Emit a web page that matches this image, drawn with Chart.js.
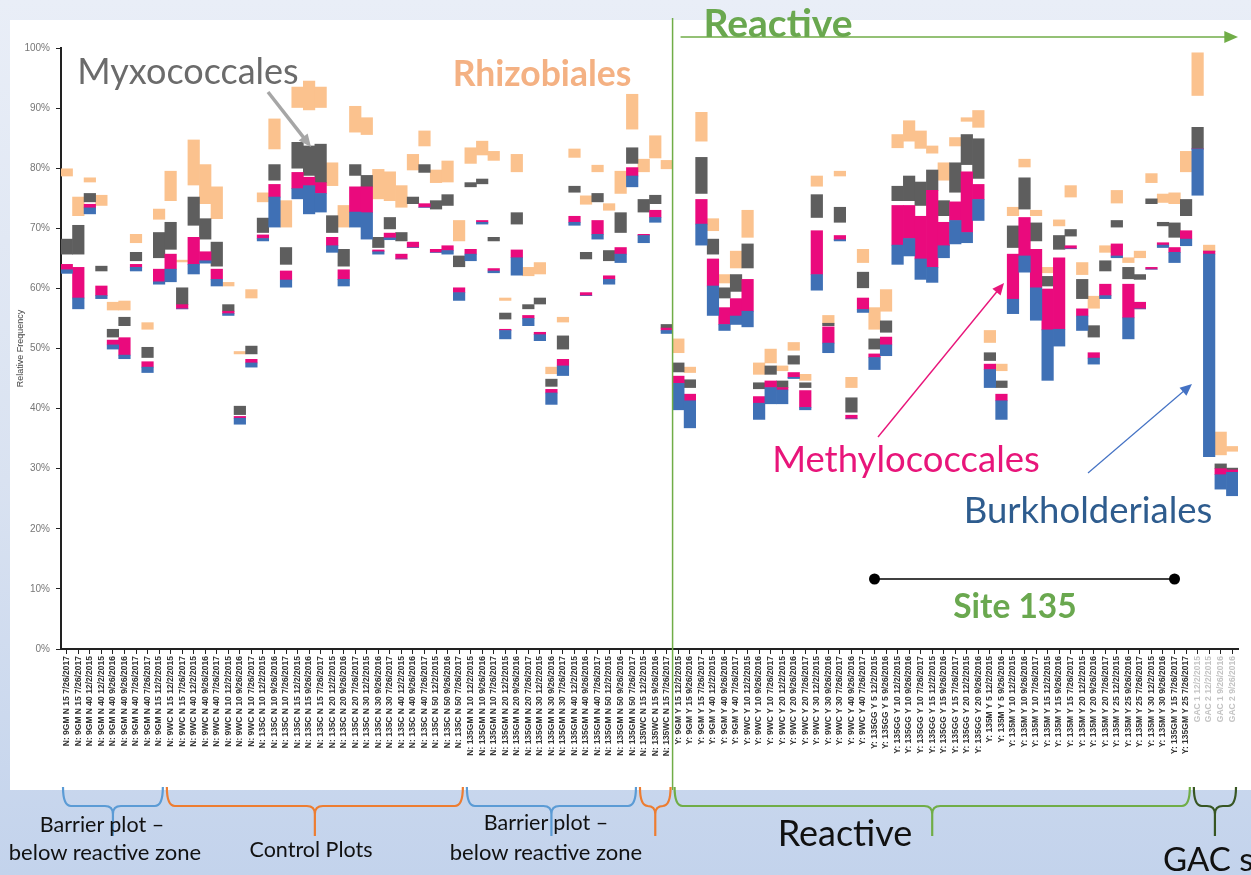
<!DOCTYPE html>
<html>
<head>
<meta charset="utf-8">
<script src="https://cdn.jsdelivr.net/npm/chart.js@4.4.1/dist/chart.umd.min.js"></script>
<style>
  html, body { margin: 0; padding: 0; }
  body {
    width: 1251px; height: 875px; position: relative; overflow: hidden;
    background: linear-gradient(180deg, #e9eef7 0%, #d9e2f1 55%, #c3d3ec 100%);
    font-family: Lato, "Open Sans", sans-serif;
  }
  #panel { position: absolute; left: 10px; top: 20px; width: 1241px; height: 770px; background: #fff; }
  #chart { position: absolute; left: 0; top: 0; }
  .t { position: absolute; white-space: nowrap; line-height: 1; transform: translate(-50%, -50%); }
</style>
</head>
<body>
<div id="panel"></div>
<canvas id="chart" width="1251" height="875"></canvas>

<div class="t" style="left:778px;top:22px;font-size:39px;font-weight:700;color:#6aa84f;">Reactive</div>
<div class="t" style="left:188px;top:70px;font-size:36px;color:#6b6b6b;">Myxococcales</div>
<div class="t" style="left:542px;top:73px;font-size:35.5px;font-weight:700;color:#f4b183;">Rhizobiales</div>
<div class="t" style="left:906px;top:458px;font-size:36.5px;color:#e8157a;">Methylococcales</div>
<div class="t" style="left:1088px;top:509px;font-size:36.5px;color:#2e5c8e;">Burkholderiales</div>
<div class="t" style="left:1015px;top:606px;font-size:33.5px;font-weight:700;color:#6aa84f;">Site 135</div>

<div class="t" style="left:102px;top:825px;font-size:21.5px;color:#111;">Barrier plot –</div>
<div class="t" style="left:105px;top:852px;font-size:22px;color:#111;">below reactive zone</div>
<div class="t" style="left:311px;top:850px;font-size:21.5px;color:#111;">Control Plots</div>
<div class="t" style="left:546px;top:823px;font-size:21.5px;color:#111;">Barrier plot –</div>
<div class="t" style="left:546px;top:852px;font-size:22px;color:#111;">below reactive zone</div>
<div class="t" style="left:845px;top:832px;font-size:36px;color:#111;">Reactive</div>
<div class="t" style="left:1163px;top:858px;font-size:33px;color:#111;transform:translate(0,-50%);">GAC site</div>

<script>
// Sample names along the x axis
const sampleLabels = [
  "N: 9GM N 15 7/26/2017", "N: 9GM N 15 7/26/2017", "N: 9GM N 40 12/2/2015", "N: 9GM N 40 12/2/2015",
  "N: 9GM N 40 9/26/2016", "N: 9GM N 40 9/26/2016", "N: 9GM N 40 7/26/2017", "N: 9GM N 40 7/26/2017",
  "N: 9GM N 15 12/2/2015",
  "N: 9WC N 15 12/2/2015", "N: 9WC N 15 7/26/2017", "N: 9WC N 40 12/2/2015", "N: 9WC N 40 9/26/2016",
  "N: 9WC N 40 7/26/2017", "N: 9WC N 10 12/2/2015", "N: 9WC N 10 9/26/2016", "N: 9WC N 10 7/26/2017",
  "N: 135C N 10 12/2/2015", "N: 135C N 10 9/26/2016", "N: 135C N 10 7/26/2017", "N: 135C N 15 12/2/2015",
  "N: 135C N 15 9/26/2016", "N: 135C N 15 7/26/2017", "N: 135C N 20 12/2/2015", "N: 135C N 20 9/26/2016",
  "N: 135C N 20 7/26/2017", "N: 135C N 30 12/2/2015", "N: 135C N 30 9/26/2016", "N: 135C N 30 7/26/2017",
  "N: 135C N 40 12/2/2015", "N: 135C N 40 9/26/2016", "N: 135C N 40 7/26/2017", "N: 135C N 50 12/2/2015",
  "N: 135C N 50 9/26/2016", "N: 135C N 50 7/26/2017",
  "N: 135GM N 10 12/2/2015", "N: 135GM N 10 9/26/2016", "N: 135GM N 10 7/26/2017", "N: 135GM N 20 12/2/2015",
  "N: 135GM N 20 9/26/2016", "N: 135GM N 20 7/26/2017", "N: 135GM N 30 12/2/2015", "N: 135GM N 30 9/26/2016",
  "N: 135GM N 30 7/26/2017", "N: 135GM N 40 12/2/2015", "N: 135GM N 40 9/26/2016", "N: 135GM N 40 7/26/2017",
  "N: 135GM N 50 12/2/2015", "N: 135GM N 50 9/26/2016", "N: 135GM N 50 7/26/2017",
  "N: 135WC N 15 12/2/2015", "N: 135WC N 15 9/26/2016", "N: 135WC N 15 7/26/2017",
  "Y: 9GM Y 15 12/2/2015", "Y: 9GM Y 15 9/26/2016", "Y: 9GM Y 15 7/26/2017", "Y: 9GM Y 40 12/2/2015",
  "Y: 9GM Y 40 9/26/2016", "Y: 9GM Y 40 7/26/2017", "Y: 9WC Y 10 12/2/2015", "Y: 9WC Y 10 9/26/2016",
  "Y: 9WC Y 10 7/26/2017", "Y: 9WC Y 20 12/2/2015", "Y: 9WC Y 20 9/26/2016", "Y: 9WC Y 20 7/26/2017",
  "Y: 9WC Y 30 12/2/2015", "Y: 9WC Y 30 9/26/2016", "Y: 9WC Y 30 7/26/2017", "Y: 9WC Y 40 9/26/2016",
  "Y: 9WC Y 40 7/26/2017",
  "Y: 135GG Y 5 12/2/2015", "Y: 135GG Y 5 9/26/2016", "Y: 135GG Y 10 12/2/2015", "Y: 135GG Y 10 9/26/2016",
  "Y: 135GG Y 10 7/26/2017", "Y: 135GG Y 15 12/2/2015", "Y: 135GG Y 15 9/26/2016", "Y: 135GG Y 15 7/26/2017",
  "Y: 135GG Y 20 12/2/2015", "Y: 135GG Y 20 9/26/2016", "Y: 135M Y 5 12/2/2015", "Y: 135M Y 5 9/26/2016",
  "Y: 135M Y 10 12/2/2015", "Y: 135M Y 10 9/26/2016", "Y: 135M Y 10 7/26/2017", "Y: 135M Y 15 12/2/2015",
  "Y: 135M Y 15 9/26/2016", "Y: 135M Y 15 7/26/2017", "Y: 135M Y 20 12/2/2015", "Y: 135M Y 20 9/26/2016",
  "Y: 135M Y 20 7/26/2017", "Y: 135M Y 25 12/2/2015", "Y: 135M Y 25 9/26/2016", "Y: 135M Y 25 7/26/2017",
  "Y: 135M Y 30 12/2/2015", "Y: 135M Y 30 9/26/2016", "Y: 135GM Y 15 7/26/2017", "Y: 135GM Y 25 7/26/2017",
  "GAC 1 12/2/2015", "GAC 2 12/2/2015", "GAC 1 9/26/2016", "GAC 2 9/26/2016"
];

// Cumulative relative frequency (%) where each order's band starts and ends in a sample
const burkLo = [
  62.5,56.6,72.4,58.3,49.9,48.3,62.9,46.0,60.7,61.1, 56.6,62.4,64.2,60.4,55.5,37.4,46.9,67.9,70.2,60.2,
  74.9,72.4,72.7,66.0,60.4,70.2,68.2,65.7,68.1,64.9, 66.8,73.5,66.0,65.7,58.0,64.6,70.7,62.6,51.6,62.2,
  53.8,51.3,40.7,45.5,70.5,58.8,68.2,60.7,64.3,76.9, 67.6,71.0,52.5,39.8,36.8,67.2,55.5,53.0,54.0,53.6,
  38.2,40.8,40.8,45.0,39.8,59.7,49.3,67.9,38.3,56.0, 46.5,48.8,64.0,65.4,61.5,61.0,65.1,67.4,67.6,71.3,
  43.5,38.2,55.8,62.7,54.7,44.7,50.4,66.6,53.0,47.4, 58.3,65.1,51.6,56.6,63.2,66.8,64.3,67.1,75.5,32.0,
  26.6,25.5
];
const burkHi = [
  63.1,58.4,73.4,58.8,50.6,48.9,63.5,46.9,61.1,63.2, 56.6,64.0,64.6,61.5,55.8,38.4,47.6,68.3,75.2,61.4,
  76.6,77.1,75.8,67.1,61.5,72.7,72.6,66.1,68.4,64.9, 66.8,73.5,66.0,66.3,59.3,65.7,71.0,62.9,53.0,65.1,
  55.0,52.3,42.6,47.1,71.0,58.8,69.0,61.5,65.7,78.7, 68.8,71.8,53.0,44.2,41.3,70.7,60.4,54.0,55.4,56.2,
  40.9,43.5,43.1,45.2,40.2,62.3,50.9,68.1,38.3,56.5, 48.5,50.6,67.2,68.3,64.9,63.5,67.1,71.3,69.3,74.8,
  46.5,41.3,58.2,65.4,60.1,53.1,53.2,66.6,55.4,48.4, 58.8,65.4,55.1,56.6,63.2,67.2,66.0,68.2,83.2,65.7,
  29.0,29.4
];
const methHi = [
  64.0,63.5,74.0,60.4,51.4,51.8,64.0,47.8,63.2,65.7, 57.3,68.5,66.1,63.2,56.2,38.7,48.2,68.9,77.3,62.9,
  79.3,78.5,77.6,68.5,63.1,76.9,76.9,66.4,69.2,65.7, 67.7,74.1,66.5,67.1,60.1,66.5,71.3,63.3,53.2,66.4,
  55.5,52.7,43.2,48.2,72.0,59.3,71.3,62.1,66.8,80.1, 69.0,73.0,53.4,45.4,42.4,74.8,64.9,56.8,58.3,61.5,
  42.0,44.6,43.5,46.0,43.0,69.6,53.6,68.8,38.9,58.4, 49.1,51.9,73.8,73.8,72.0,76.3,71.0,74.4,79.4,77.3,
  47.4,42.4,65.7,71.8,66.5,59.9,65.1,67.1,56.6,49.3, 60.7,67.4,60.7,57.7,63.5,67.6,66.8,69.6,83.2,66.2,
  30.0,29.8
];
const myxoLo = [
  65.7,65.7,74.4,62.9,51.9,53.8,64.6,48.5,65.1,66.5, 57.3,70.5,68.2,63.7,56.2,39.0,49.1,69.3,78.0,64.0,
  80.0,78.8,77.6,69.3,63.7,78.8,76.9,66.8,69.9,67.9, 74.1,79.3,73.2,73.8,63.6,76.9,77.4,67.9,54.9,70.7,
  56.6,57.4,43.7,49.9,76.0,64.9,74.4,64.6,69.3,80.8, 72.7,74.1,53.4,46.1,43.5,75.8,65.7,58.4,59.5,63.4,
  43.3,45.7,43.5,47.4,43.5,71.8,53.8,71.0,39.4,60.1, 49.9,52.7,74.6,74.6,73.8,76.3,72.1,76.0,80.6,78.3,
  48.0,43.5,66.8,73.2,67.9,60.4,66.5,68.7,58.3,51.9, 62.9,70.2,61.6,61.5,74.1,70.4,68.5,72.1,83.2,66.2,
  30.0,29.8
];
const myxoHi = [
  68.2,70.5,75.8,63.7,53.2,55.2,66.0,50.2,69.3,71.0, 60.1,75.2,71.6,67.7,57.3,40.4,50.4,71.7,80.6,66.8,
  84.3,83.7,84.0,72.1,66.5,80.6,78.8,68.5,71.8,69.3, 75.2,80.6,74.6,75.6,65.4,77.6,78.2,68.5,55.9,72.6,
  57.3,58.4,44.9,52.1,77.0,66.0,75.8,66.3,72.6,83.4, 74.8,75.5,54.0,47.6,44.8,81.8,68.2,60.1,62.3,67.4,
  44.3,47.1,44.6,48.8,44.3,75.6,54.2,73.5,41.8,62.7, 51.6,54.6,77.0,78.7,77.7,79.7,74.6,80.9,85.6,84.9,
  49.3,44.6,70.4,78.4,70.9,62.0,68.8,69.8,61.5,53.8, 64.6,71.3,63.5,62.3,74.9,71.0,70.9,74.8,86.8,66.2,
  30.8,30.1
];
const rhizLo = [
  78.7,72.1,77.7,73.8,56.4,56.4,67.6,53.2,71.5,74.6, 64.4,77.2,74.1,71.6,60.4,49.1,58.4,74.4,83.2,70.2,
  90.1,89.7,90.1,77.1,70.2,86.0,85.6,74.9,74.6,73.5, 79.7,83.7,77.6,77.7,67.9,80.8,82.2,81.3,58.0,79.4,
  62.1,62.4,45.8,54.4,81.8,74.0,79.4,73.0,75.8,86.5, 79.4,81.7,79.9,49.3,46.0,84.5,69.6,60.9,63.4,68.5,
  45.7,47.6,46.3,49.7,44.7,77.0,54.2,78.7,43.5,64.3, 53.2,56.2,83.4,84.5,83.3,82.5,78.0,83.7,87.8,86.8,
  51.0,46.3,72.1,80.2,72.1,62.6,70.4,75.2,62.3,56.7, 66.0,74.2,64.3,65.1,77.6,74.3,74.1,79.4,92.1,66.2,
  32.3,32.9
];
const rhizHi = [
  79.9,75.2,78.4,75.5,57.7,57.9,69.0,54.3,73.2,79.5, 64.7,84.7,80.6,76.9,61.0,49.5,59.8,75.9,88.2,74.6,
  93.5,94.5,93.5,80.9,73.8,90.3,88.4,79.8,79.4,77.1, 82.3,86.2,79.7,81.2,71.3,83.4,84.5,82.8,58.4,82.3,
  63.5,64.3,46.9,55.2,83.2,75.4,80.5,74.1,79.5,92.3, 81.5,85.4,81.3,51.6,46.9,89.3,71.6,62.3,66.2,73.0,
  47.6,49.9,47.1,51.0,45.7,78.7,55.5,79.5,45.2,66.5, 56.8,59.8,85.6,87.9,86.2,83.7,80.9,85.1,88.4,89.6,
  53.0,47.4,73.5,81.5,73.0,63.5,71.4,77.1,64.3,58.7, 67.1,76.3,65.1,66.2,79.1,75.7,75.9,82.8,99.2,67.2,
  36.1,33.7
];

// Sample groups along the bottom (first and last sample index of each brace)
const groupBraces = [
  { from: 0,  to: 8,   color: '#5b9bd5' },
  { from: 9,  to: 34,  color: '#ed7d31' },
  { from: 35, to: 49,  color: '#5b9bd5' },
  { from: 50, to: 52,  color: '#ed7d31' },
  { from: 53, to: 97,  color: '#70ad47' },
  { from: 98, to: 101, color: '#375623' }
];
const reactiveStart = 53;
const site135 = { from: 70, to: 96 };
const gacStart = 98;

const BLUE = '#3f70b5', PINK = '#ea0a7d', GRAY = '#5e5e5e', ORANGE = '#fbc28e';

const band = (lo, hi) => lo.map((v, i) => [v, hi[i]]);

function arrow(ctx, x1, y1, x2, y2, color, width, head) {
  const a = Math.atan2(y2 - y1, x2 - x1);
  ctx.save();
  ctx.strokeStyle = color; ctx.fillStyle = color; ctx.lineWidth = width;
  ctx.beginPath();
  ctx.moveTo(x1, y1);
  ctx.lineTo(x2 - Math.cos(a) * head * 0.8, y2 - Math.sin(a) * head * 0.8);
  ctx.stroke();
  ctx.beginPath();
  ctx.moveTo(x2, y2);
  ctx.lineTo(x2 - head * Math.cos(a - 0.42), y2 - head * Math.sin(a - 0.42));
  ctx.lineTo(x2 - head * Math.cos(a + 0.42), y2 - head * Math.sin(a + 0.42));
  ctx.closePath();
  ctx.fill();
  ctx.restore();
}

function brace(ctx, x1, x2, color) {
  const top = 787, mid = 806, tip = 836, r = 8;
  const xm = (x1 + x2) / 2;
  ctx.save();
  ctx.strokeStyle = color; ctx.lineWidth = 2.2;
  ctx.beginPath();
  ctx.moveTo(x1, top);
  ctx.quadraticCurveTo(x1, mid, x1 + r, mid);
  ctx.lineTo(xm - r, mid);
  ctx.quadraticCurveTo(xm, mid, xm, mid + 8);
  ctx.lineTo(xm, tip);
  ctx.moveTo(xm, mid + 8);
  ctx.quadraticCurveTo(xm, mid, xm + r, mid);
  ctx.lineTo(x2 - r, mid);
  ctx.quadraticCurveTo(x2, mid, x2, top);
  ctx.stroke();
  ctx.restore();
}

const overlay = {
  id: 'overlay',
  afterDraw(chart) {
    const { ctx, scales: { x } } = chart;
    const half = (x.getPixelForValue(1) - x.getPixelForValue(0)) / 2;
    const left = i => x.getPixelForValue(i) - half;
    const right = i => x.getPixelForValue(i) + half;

    // divider before the reactive zone
    const xr = left(reactiveStart);
    ctx.save();
    ctx.strokeStyle = '#70ad47'; ctx.lineWidth = 1.5;
    ctx.beginPath(); ctx.moveTo(xr, 18); ctx.lineTo(xr, 790); ctx.stroke();
    ctx.restore();
    arrow(ctx, xr + 8, 37, right(chart.data.labels.length - 1), 37, '#70ad47', 1.5, 15);

    // pointers to the orders
    arrow(ctx, 268, 92, 311, 147, '#a6a6a6', 3.5, 14);
    arrow(ctx, 878, 437, 1004, 283, '#e8157a', 1.4, 13);
    arrow(ctx, 1088, 473, 1192, 384, '#4472c4', 1.2, 13);

    // site 135 span
    const s1 = x.getPixelForValue(site135.from), s2 = x.getPixelForValue(site135.to);
    ctx.save();
    ctx.strokeStyle = '#000'; ctx.fillStyle = '#000'; ctx.lineWidth = 1.5;
    ctx.beginPath(); ctx.moveTo(s1, 579); ctx.lineTo(s2, 579); ctx.stroke();
    [s1, s2].forEach(px => { ctx.beginPath(); ctx.arc(px, 579, 5.5, 0, Math.PI * 2); ctx.fill(); });
    ctx.restore();

    // group braces
    groupBraces.forEach(g => brace(ctx, left(g.from) + 2, right(g.to) - 2, g.color));
  }
};

new Chart(document.getElementById('chart'), {
  type: 'bar',
  data: {
    labels: sampleLabels,
    datasets: [
      { label: 'Burkholderiales', data: band(burkLo, burkHi), backgroundColor: BLUE },
      { label: 'Methylococcales', data: band(burkHi, methHi), backgroundColor: PINK },
      { label: 'Myxococcales',    data: band(myxoLo, myxoHi), backgroundColor: GRAY },
      { label: 'Rhizobiales',     data: band(rhizLo, rhizHi), backgroundColor: ORANGE }
    ]
  },
  options: {
    responsive: false,
    animation: false,
    devicePixelRatio: 1,
    layout: { padding: { left: 12, right: 13, top: 48, bottom: 0 } },
    datasets: { bar: { grouped: false, barPercentage: 1, categoryPercentage: 1, borderWidth: 0 } },
    plugins: { legend: { display: false }, tooltip: { enabled: false } },
    scales: {
      x: {
        grid: { display: true, drawOnChartArea: false, drawTicks: true, tickLength: 5, color: '#222', offset: false },
        border: { display: true, color: '#222', width: 2 },
        ticks: {
          autoSkip: false, maxRotation: 90, minRotation: 90, padding: 2,
          font: { size: 8.5, weight: 'bold', family: 'Liberation Sans' },
          color: c => (c.index >= gacStart ? '#c4c4c4' : '#333')
        },
        afterFit(s) { s.height = 226; }
      },
      y: {
        min: 0, max: 100,
        grid: { display: true, drawOnChartArea: false, drawTicks: true, tickLength: 5, color: '#222' },
        border: { display: true, color: '#222', width: 2 },
        ticks: { stepSize: 10, padding: 6, callback: v => v + '%', font: { size: 10, family: 'Liberation Sans' }, color: '#777' },
        title: { display: true, text: 'Relative Frequency', font: { size: 9, family: 'Liberation Sans' }, color: '#444', padding: { top: 3, bottom: 0 } },
        afterFit(s) { s.width = 49; }
      }
    }
  },
  plugins: [overlay]
});
</script>
</body>
</html>
